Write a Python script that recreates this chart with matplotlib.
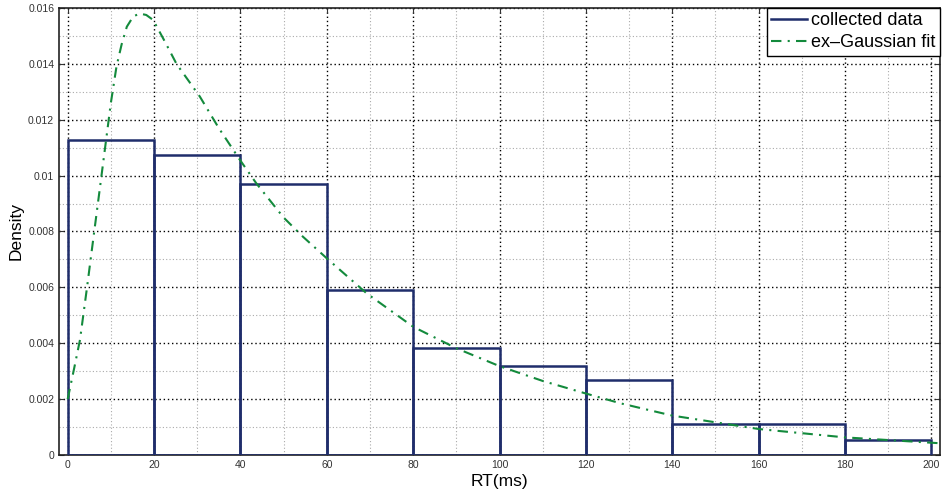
import matplotlib.pyplot as plt
from matplotlib.ticker import MultipleLocator, FuncFormatter

plt.rcParams['font.family'] = ['Liberation Sans', 'DejaVu Sans']

# Histogram data (bin edges and densities)
bin_edges = [0, 20, 40, 60, 80, 100, 120, 140, 160, 180, 200]
density = [0.01128, 0.01075, 0.00969, 0.0059, 0.00382, 0.0032, 0.00268, 0.0011, 0.0011, 0.00054]

# ex-Gaussian fit curve
fit_x = [0, 1.5, 2.85, 4.5, 5.9, 7.5, 8.9, 10, 11.3, 12.5, 13.7, 15.2, 16.7, 18.2,
         19.8, 22.5, 25.2, 30.6, 35, 39.9, 43.7, 50, 54.5, 60, 69.2, 80, 90, 100,
         110, 120, 128, 140, 160, 180, 202]
fit_y = [0.002, 0.0031, 0.00412, 0.00602, 0.0077, 0.0096, 0.01128, 0.0126, 0.0139,
         0.0147, 0.01533, 0.0157, 0.0158, 0.01575, 0.01557, 0.0148, 0.0140, 0.01283,
         0.0117, 0.01056, 0.00972, 0.0085, 0.00781, 0.00704, 0.00579, 0.00459,
         0.00382, 0.00318, 0.00265, 0.0022, 0.00185, 0.00141, 0.00093, 0.00063, 0.00042]

navy = '#1f2d6b'
green = '#138a3c'

fig = plt.figure(figsize=(9.43, 4.96), dpi=100)
ax = fig.add_axes([0.0626, 0.0827, 0.9342, 0.9012])

widths = [b - a for a, b in zip(bin_edges[:-1], bin_edges[1:])]
ax.bar(bin_edges[:-1], density, width=widths, align='edge', fill=False,
       edgecolor=navy, linewidth=1.8, zorder=3)
ax.plot([], [], color=navy, linewidth=1.8, label='collected data')
ax.plot(fit_x, fit_y, color=green, linewidth=1.5, linestyle=(0, (5, 3, 1, 3)),
        zorder=4, label='ex\u2013Gaussian fit')

ax.set_xlim(-2, 202)
ax.set_ylim(0, 0.016)
ax.xaxis.set_major_locator(MultipleLocator(20))
ax.xaxis.set_minor_locator(MultipleLocator(10))
ax.yaxis.set_major_locator(MultipleLocator(0.002))
ax.yaxis.set_minor_locator(MultipleLocator(0.001))
ax.yaxis.set_major_formatter(FuncFormatter(lambda v, p: '%g' % round(v, 4)))

ax.grid(which='major', color='black', linestyle=(0, (1, 2)), linewidth=1.0)
ax.grid(which='minor', color='#aaaaaa', linestyle=(0, (1, 2)), linewidth=0.8)
ax.set_axisbelow(True)
ax.tick_params(which='both', direction='in', top=True, right=True, labelsize=7.5,
               colors='#333333', labelcolor='#333333')
ax.tick_params(which='minor', length=0)
for s in ax.spines.values():
    s.set_linewidth(1.2)
    s.set_color('#222222')

ax.set_xlabel('RT(ms)', fontsize=12.5, labelpad=3)
ax.set_ylabel('Density', fontsize=12.5, labelpad=3)

leg = ax.legend(loc='upper right', fontsize=13, fancybox=False, framealpha=1,
                edgecolor='black', borderpad=0.25, handlelength=2.0,
                handletextpad=0.2, borderaxespad=0.0, labelspacing=0.25)
leg.get_frame().set_linewidth(1.0)

fig.savefig('out.png', dpi=100)
